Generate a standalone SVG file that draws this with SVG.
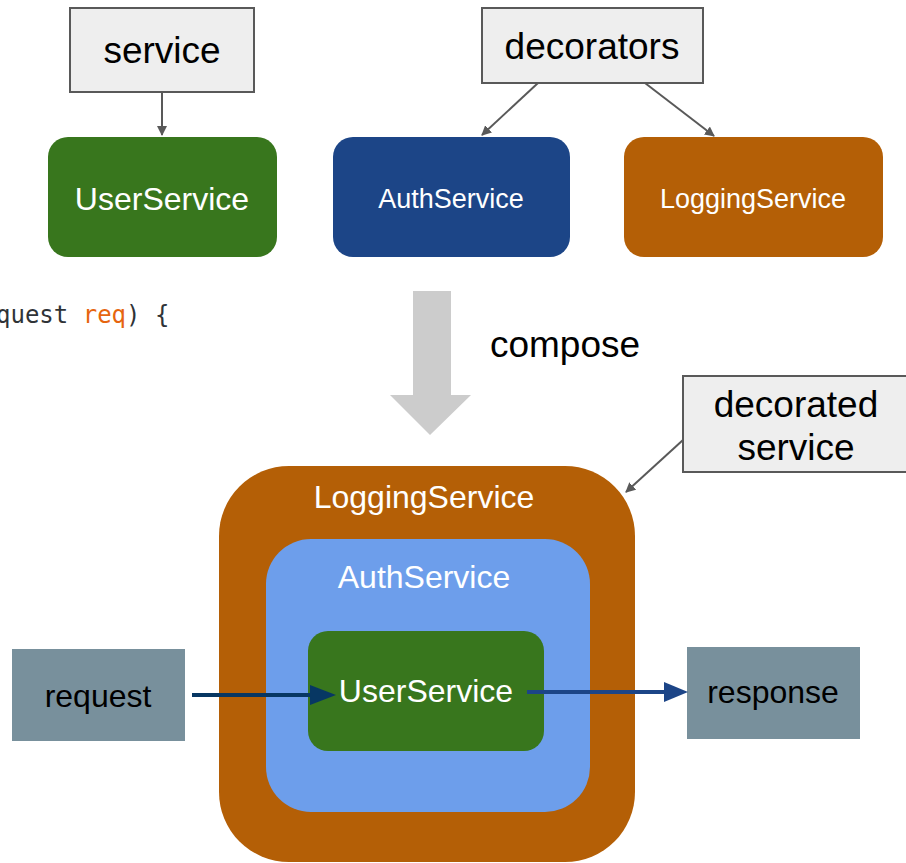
<svg xmlns="http://www.w3.org/2000/svg" width="906" height="863" viewBox="0 0 906 863">
<style>
.lbl{fill:#eeeeee;stroke:#595959;stroke-width:2}
.t{font-family:"Liberation Sans",Arial,sans-serif;text-anchor:middle}
.w{fill:#ffffff}
.k{fill:#000000}
.con{stroke:#595959;stroke-width:2;fill:none}
</style>
<defs>
<marker id="ga" markerWidth="10" markerHeight="10" refX="9" refY="5" orient="auto" markerUnits="userSpaceOnUse" viewBox="0 0 10 10">
<path d="M0,0 L10,5 L0,10 z" fill="#595959"/>
</marker>
</defs>
<rect width="906" height="863" fill="#ffffff"/>
<text x="-4" y="323" font-family="'DejaVu Sans Mono',monospace" font-size="24" fill="#2f3337" xml:space="preserve">quest <tspan fill="#e6650f">req</tspan>) {</text>
<g id="service"><rect class="lbl" x="70" y="8" width="184" height="84"/><text class="t k" x="162" y="63" font-size="37">service</text></g>
<g id="decorators"><rect class="lbl" x="482" y="8" width="221" height="75"/><text class="t k" x="592" y="59" font-size="37">decorators</text></g>
<g id="userservice-top"><rect x="48" y="137" width="229" height="120" rx="20" fill="#38761d"/><text class="t w" x="162" y="210" font-size="32">UserService</text></g>
<g id="authservice-top"><rect x="333" y="137" width="237" height="120" rx="20" fill="#1c4587"/><text class="t w" x="451" y="208" font-size="27">AuthService</text></g>
<g id="loggingservice-top"><rect x="624" y="137" width="259" height="120" rx="20" fill="#b45f06"/><text class="t w" x="753" y="208" font-size="27">LoggingService</text></g>
<g id="compose"><path d="M413,291 H451 V395 H471 L430,435 L390,395 H413 Z" fill="#cccccc"/><text class="t k" x="565" y="357" font-size="37">compose</text></g>
<g id="decorated-service"><rect class="lbl" x="683" y="376" width="225" height="96"/><text class="t k" x="796" y="417" font-size="37">decorated</text><text class="t k" x="796" y="460" font-size="37">service</text></g>
<g id="loggingservice"><rect x="219" y="466" width="416" height="396" rx="70" fill="#b45f06"/><text class="t w" x="424" y="508" font-size="32">LoggingService</text></g>
<g id="authservice"><rect x="266" y="539" width="324" height="273" rx="45" fill="#6d9eeb"/><text class="t w" x="424" y="588" font-size="32">AuthService</text></g>
<g id="userservice"><rect x="308" y="631" width="236" height="120" rx="20" fill="#38761d"/><text class="t w" x="426" y="702" font-size="32">UserService</text></g>
<g id="request"><rect x="12" y="649" width="173" height="92" fill="#78909c"/><text class="t k" x="98" y="707" font-size="32">request</text></g>
<g id="response"><rect x="687" y="647" width="173" height="92" fill="#78909c"/><text class="t k" x="773" y="703" font-size="32">response</text></g>
<g id="connectors">
<line class="con" x1="162" y1="92" x2="162" y2="135" marker-end="url(#ga)"/>
<line class="con" x1="538" y1="83" x2="482" y2="135" marker-end="url(#ga)"/>
<line class="con" x1="645" y1="83" x2="714" y2="136" marker-end="url(#ga)"/>
<line class="con" x1="683" y1="440" x2="626" y2="492" marker-end="url(#ga)"/>
<line x1="192" y1="695" x2="312" y2="695" stroke="#073763" stroke-width="4"/>
<path d="M310,685 L336,695 L310,705 z" fill="#073763"/>
<line x1="527" y1="692" x2="666" y2="692" stroke="#1c4587" stroke-width="4"/>
<path d="M664,682 L688,692 L664,702 z" fill="#1c4587"/>
</g>
</svg>
